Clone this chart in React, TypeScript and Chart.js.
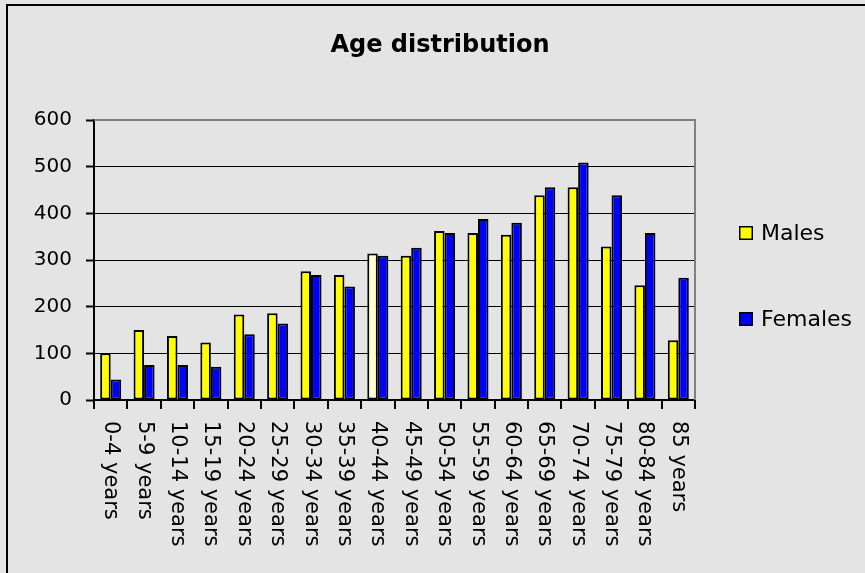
import React, { useEffect, useRef } from "react";
import { Chart, registerables } from "chart.js";

Chart.register(...registerables);

const chartTitle = "Age distribution";
const categories = [
  "0-4 years", "5-9 years", "10-14 years", "15-19 years", "20-24 years", "25-29 years",
  "30-34 years", "35-39 years", "40-44 years", "45-49 years", "50-54 years", "55-59 years",
  "60-64 years", "65-69 years", "70-74 years", "75-79 years", "80-84 years", "85 years",
];
const seriesNames = ["Males", "Females"];
const males = [100, 150, 137, 123, 183, 186, 276, 268, 314, 309, 362, 358, 354, 439, 456, 329, 246, 128];
const females = [44, 75, 75, 71, 141, 164, 268, 243, 309, 326, 358, 388, 380, 456, 509, 439, 358, 262];
const yMin = 0;
const yMax = 600;
const yStep = 100;

const FONT = "'DejaVu Sans', 'Liberation Sans', Arial, sans-serif";
const seriesColors = ["#FFFF00", "#0000FF"];
const highlightMaleIndex = 8;
const highlightColor = "#FFFFCC";

const decorPlugin = {
  id: "decor",
  beforeDraw(chart: any) {
    const ctx = chart.ctx;
    ctx.save();
    ctx.fillStyle = "#e4e4e4";
    ctx.fillRect(0, 0, chart.width, chart.height);
    ctx.fillStyle = "#000";
    ctx.fillRect(6, 4, chart.width - 6, 2);
    ctx.fillRect(6, 4, 2, chart.height - 4);
    ctx.restore();
  },
  afterDraw(chart: any) {
    const { ctx, chartArea } = chart;
    ctx.save();
    // plot border top/right
    ctx.strokeStyle = "#808080";
    ctx.lineWidth = 2;
    ctx.beginPath();
    ctx.moveTo(chartArea.left, chartArea.top);
    ctx.lineTo(chartArea.right, chartArea.top);
    ctx.lineTo(chartArea.right, chartArea.bottom);
    ctx.stroke();

    // title
    ctx.fillStyle = "#000";
    ctx.font = `bold 24px ${FONT}`;
    ctx.textAlign = "center";
    ctx.textBaseline = "alphabetic";
    ctx.fillText(chartTitle, 440, 52);

    // rotated category labels (clockwise)
    const xs = chart.scales.x;
    ctx.font = `21px ${FONT}`;
    ctx.textAlign = "left";
    ctx.textBaseline = "middle";
    categories.forEach((lab, i) => {
      ctx.save();
      ctx.translate(xs.getPixelForValue(i), chartArea.bottom + 21);
      ctx.rotate(Math.PI / 2);
      ctx.fillText(lab, 0, 0);
      ctx.restore();
    });

    // legend
    const legendY = [233, 319];
    ctx.font = `22px ${FONT}`;
    ctx.textAlign = "left";
    ctx.textBaseline = "middle";
    chart.data.datasets.forEach((ds: any, i: number) => {
      const cy = legendY[i];
      ctx.fillStyle = seriesColors[i];
      ctx.fillRect(739, cy - 7, 14, 14);
      ctx.strokeStyle = "#000";
      ctx.lineWidth = 1.5;
      ctx.strokeRect(739.75, cy - 6.25, 12.5, 12.5);
      ctx.fillStyle = "#000";
      ctx.fillText(ds.label, 761, cy + 1);
    });
    ctx.restore();
  },
};

export default function App() {
  const ref = useRef<HTMLCanvasElement>(null);
  useEffect(() => {
    if (!ref.current) return;
    const chart = new Chart(ref.current, {
      type: "bar",
      data: {
        labels: categories,
        datasets: [
          {
            label: seriesNames[0],
            data: males,
            backgroundColor: categories.map((_, i) => (i === highlightMaleIndex ? highlightColor : seriesColors[0])),
            borderColor: "#000",
            borderWidth: 2,
            borderSkipped: false,
            categoryPercentage: 0.63,
            barPercentage: 1,
          },
          {
            label: seriesNames[1],
            data: females,
            backgroundColor: seriesColors[1],
            borderColor: "#000",
            borderWidth: 2,
            borderSkipped: false,
            categoryPercentage: 0.63,
            barPercentage: 1,
          },
        ],
      },
      options: {
        responsive: false,
        animation: false,
        layout: { padding: { top: 120, left: 0, right: 170, bottom: 0 } },
        plugins: {
          legend: { display: false },
          title: { display: false },
          tooltip: { enabled: false },
        },
        scales: {
          x: {
            grid: {
              offset: true,
              drawOnChartArea: false,
              drawTicks: true,
              tickLength: 9,
              color: "#000",
              lineWidth: 2,
            },
            border: { color: "#000", width: 2 },
            ticks: { color: "transparent", font: { size: 21, family: FONT }, maxRotation: 90, minRotation: 90 },
            afterFit(scale: any) {
              scale.height = 173;
            },
          },
          y: {
            min: yMin,
            max: yMax,
            ticks: {
              stepSize: yStep,
              color: "#000",
              padding: 14,
              font: { size: 20, family: FONT },
            },
            grid: {
              color: (c: any) => (c.tick && c.tick.value === yMax ? "transparent" : "#000"),
              tickColor: "#000",
              lineWidth: 1,
              tickWidth: 2,
              tickLength: 8,
            },
            border: { color: "#000", width: 2 },
            afterFit(scale: any) {
              scale.width = 94;
            },
          },
        },
      },
      plugins: [decorPlugin],
    });
    return () => chart.destroy();
  }, []);

  return (
    <div style={{ position: "fixed", left: 0, top: 0, width: 865, height: 573 }}>
      <canvas ref={ref} width={865} height={573} style={{ display: "block" }} />
    </div>
  );
}
